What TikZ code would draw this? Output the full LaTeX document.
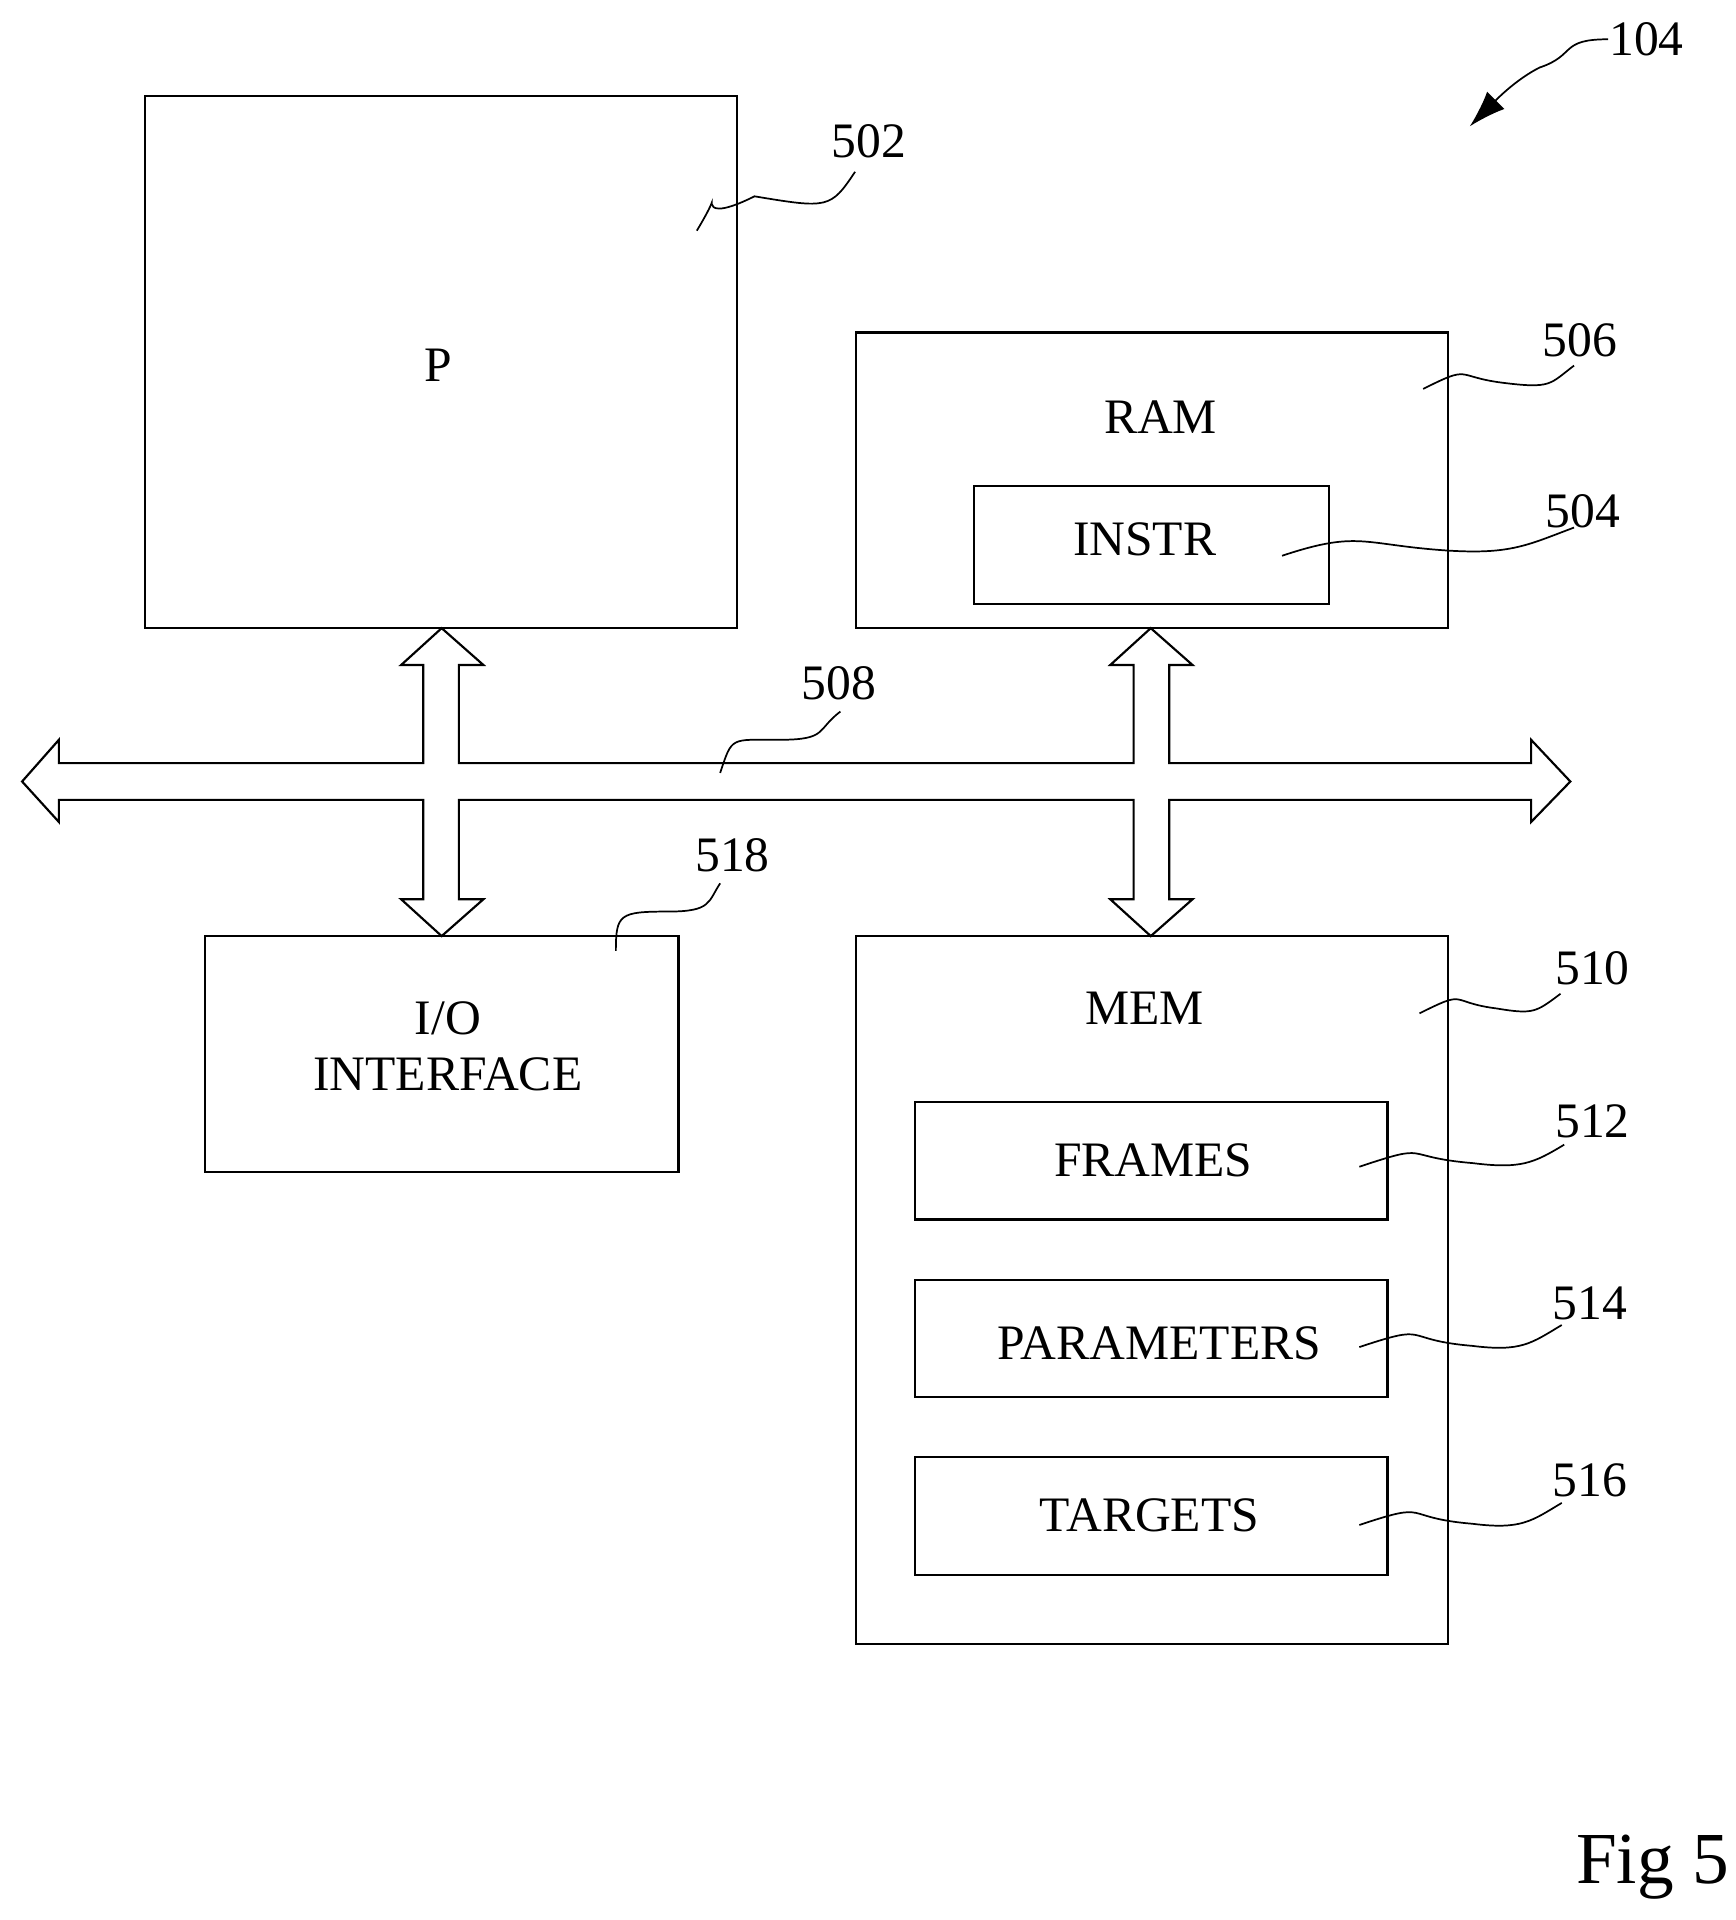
\documentclass[tikz,border=0pt]{standalone}
\usepackage{fontspec}
\setmainfont{Liberation Serif}
\usetikzlibrary{arrows.meta}
\begin{document}
\begin{tikzpicture}[x=0.1mm, y=-0.1mm, line width=0.5pt,
  box/.style={draw, inner sep=0pt, outer sep=0pt, font=\fontsize{11.5}{13}\selectfont},
  lbl/.style={inner sep=0pt, font=\fontsize{11.5}{13}\selectfont},
  lead/.style={draw, line width=0.4pt}]
  \useasboundingbox (0,0) rectangle (1415,1565);

  % boxes
  \node[box, minimum width=48.3mm, minimum height=43.4mm] (proc) at (359.5,295) {};
  \node[lbl] (proctext) at (357,298) {P};
  \node[box, minimum width=48.2mm, minimum height=24.1mm] (ram) at (939,391.5) {};
  \node[lbl] (ramtext) at (946,340) {RAM};
  \node[box, minimum width=28.9mm, minimum height=9.6mm] (instr) at (938.5,444) {};
  \node[lbl] (instrtext) at (933,440) {INSTR};
  \node[box, minimum width=38.6mm, minimum height=19.2mm] (io) at (360,859) {};
  \node[lbl, align=center] (iotext) at (365,853) {I/O\\INTERFACE};
  \node[box, minimum width=48.2mm, minimum height=57.7mm] (mem) at (939,1051.5) {};
  \node[lbl] (memtext) at (933,822) {MEM};
  \node[box, minimum width=38.5mm, minimum height=9.6mm] (frames) at (938.5,946) {};
  \node[lbl] (framestext) at (940,946) {FRAMES};
  \node[box, minimum width=38.5mm, minimum height=9.6mm] (params) at (938.5,1091) {};
  \node[lbl] (paramstext) at (945,1095) {PARAMETERS};
  \node[box, minimum width=38.5mm, minimum height=9.6mm] (targets) at (938.5,1235.5) {};
  \node[lbl] (targetstext) at (937,1235) {TARGETS};

  % bus 508
  \draw[line join=miter] (18,637) -- (48,603) -- (48,622) -- (345,622) -- (345,542)
    -- (327,542) -- (360,512) -- (394,542) -- (374,542) -- (374,622) -- (924,622)
    -- (924,542) -- (905,542) -- (938,512) -- (972,542) -- (953,542) -- (953,622)
    -- (1248,622) -- (1248,603) -- (1280,637) -- (1248,670) -- (1248,652)
    -- (953,652) -- (953,733) -- (972,733) -- (938,763) -- (905,733) -- (924,733)
    -- (924,652) -- (374,652) -- (374,733) -- (394,733) -- (360,763) -- (327,733)
    -- (345,733) -- (345,652) -- (48,652) -- (48,670) -- cycle;

  % reference numerals
  \node[lbl] (n502) at (708,115) {502};
  \node[lbl] (n506) at (1288,277) {506};
  \node[lbl] (n504) at (1290,417) {504};
  \node[lbl] (n508) at (684,557) {508};
  \node[lbl] (n518) at (597,697) {518};
  \node[lbl] (n510) at (1298,789) {510};
  \node[lbl] (n512) at (1298,914) {512};
  \node[lbl] (n514) at (1296,1062) {514};
  \node[lbl] (n516) at (1296,1207) {516};
  \node[lbl] (n104) at (1342,32) {104};
  \node[inner sep=0pt, font=\fontsize{17}{20}\selectfont] (fig) at (1347,1522) {Fig 5};

  % leaders
  \path[lead] (568,188) .. controls +(30,-50) and +(-60,30) .. (615,160) .. controls +(60,10) and +(-20,30) .. (697,140);
  \path[lead] (1160,317) .. controls +(40,-20) and +(-40,-5) .. (1225,312) .. controls +(40,5) and +(-20,15) .. (1283,298);
  \path[lead] (1045,453) .. controls +(60,-20) and +(-60,-5) .. (1170,448) .. controls +(60,5) and +(-40,15) .. (1283,430);
  \path[lead] (587,630) .. controls +(10,-30) and +(-40,0) .. (635,603) .. controls +(40,0) and +(-20,15) .. (685,580);
  \path[lead] (502,775) .. controls +(0,-30) and +(-40,0) .. (545,743) .. controls +(35,0) and +(-10,15) .. (587,720);
  \path[lead] (1157,826) .. controls +(40,-20) and +(-40,-5) .. (1220,822) .. controls +(30,5) and +(-20,15) .. (1272,810);
  \path[lead] (1108,951) .. controls +(60,-20) and +(-60,-5) .. (1200,948) .. controls +(40,5) and +(-25,15) .. (1275,933);
  \path[lead] (1108,1098) .. controls +(60,-20) and +(-60,-5) .. (1200,1097) .. controls +(40,5) and +(-25,15) .. (1273,1080);
  \path[lead] (1108,1243) .. controls +(60,-20) and +(-60,-5) .. (1200,1242) .. controls +(40,5) and +(-25,15) .. (1273,1225);
  \coordinate (tip104) at (1198,103);
  \draw[-{Latex[length=3mm,width=2mm]}, line width=0.4pt] (n104.west) .. controls +(-40,0) and +(30,-10) .. (1255,55) .. controls +(-20,10) and +(20,-20) .. (tip104);
\end{tikzpicture}
\end{document}
